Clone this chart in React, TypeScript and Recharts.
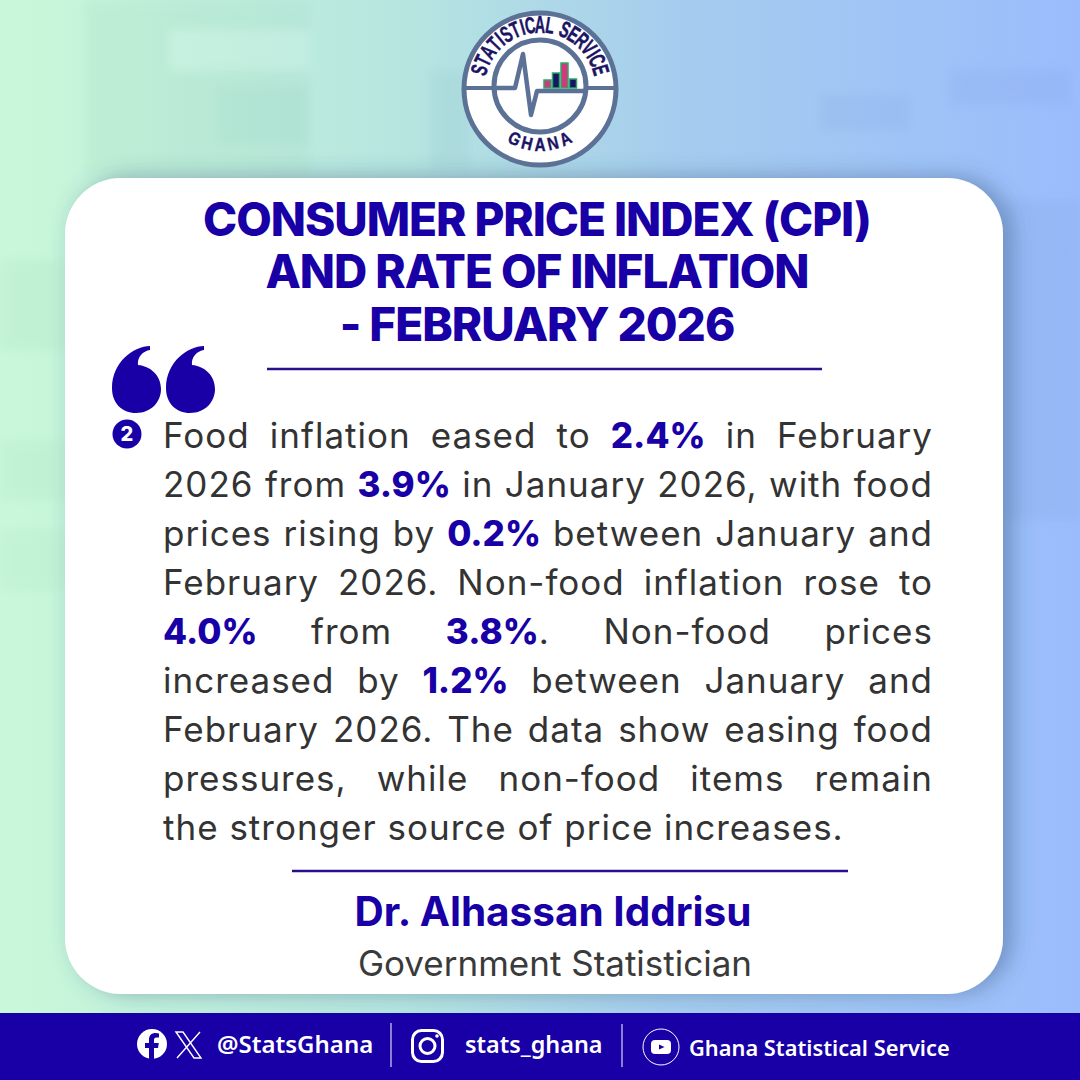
import React from "react";
import { ComposedChart, Bar, Cell, XAxis, YAxis } from "recharts";

const titleLines = ["CONSUMER PRICE INDEX (CPI)", "AND RATE OF INFLATION", "- FEBRUARY 2026"];
const bodyLines = [
  "Food inflation eased to *2.4%* in February",
  "2026 from *3.9%* in January 2026, with food",
  "prices rising by *0.2%* between January and",
  "February 2026. Non-food inflation rose to",
  "*4.0%* from *3.8%*. Non-food prices",
  "increased by *1.2%* between January and",
  "February 2026. The data show easing food",
  "pressures, while non-food items remain",
  "the stronger source of price increases.",
];
const logoTopText = "STATISTICAL SERVICE";
const logoBottomText = "GHANA";
const logoCategories = ["a", "b", "c", "d"];
const logoValues = [8, 15, 25, 9];
const logoFills = ["#d2397c", "#1b1464", "#d2397c", "#1b1464"];
const logoData = logoCategories.map((name, i) => ({ name, value: logoValues[i] }));

const BLUE = "#1800a6";
const SANS = "Inter, 'Noto Sans', sans-serif";
const LOGO = "#5c7196";
const NAVY = "#1b1464";

const Background = () => (
  <>
    <defs>
      <linearGradient id="bg" x1="0" y1="0" x2="1" y2="0">
        <stop offset="0" stopColor="#c9f8d9" />
        <stop offset="0.38" stopColor="#b6e5e0" />
        <stop offset="0.62" stopColor="#a6cdee" />
        <stop offset="1" stopColor="#9bbcfc" />
      </linearGradient>
      <filter id="soft" x="-30%" y="-30%" width="160%" height="160%">
        <feGaussianBlur stdDeviation="5" />
      </filter>
      <filter id="shadow" x="-10%" y="-10%" width="120%" height="120%">
        <feDropShadow dx="9" dy="-1" stdDeviation="11" floodColor="#35567f" floodOpacity="0.45" />
      </filter>
    </defs>
    <rect x={0} y={0} width={1080} height={1080} fill="url(#bg)" />
    <g filter="url(#soft)" opacity={0.16}>
      <rect x={85} y={0} width={225} height={175} fill="#9fd6b8" />
      <rect x={170} y={30} width={140} height={40} fill="#e4fbf0" />
      <rect x={215} y={85} width={95} height={60} fill="#7fc0a8" />
      <rect x={0} y={260} width={65} height={90} fill="#9fd8b4" />
      <rect x={0} y={440} width={65} height={60} fill="#a4dcb8" />
      <rect x={0} y={530} width={65} height={60} fill="#a8e0bc" />
      <rect x={430} y={70} width={40} height={100} fill="#8cc0c8" />
      <rect x={820} y={95} width={90} height={35} fill="#7fa2e0" />
      <rect x={950} y={70} width={120} height={35} fill="#7f9fe4" />
      <rect x={1003} y={200} width={77} height={320} fill="#7aa0dc" />
    </g>
  </>
);

const Card = () => (
  <>
    <rect x={65} y={178} width={938} height={816} rx={56} ry={56} fill="#ffffff" filter="url(#shadow)" />
    {titleLines.map((t, i) => (
      <text key={t} x={537} y={[236, 288, 341][i]} textAnchor="middle" fontFamily={SANS} fontWeight={800} fontSize={46} letterSpacing={-1.05} fill={BLUE}>
        {t}
      </text>
    ))}
    <line x1={267} x2={822} y1={369} y2={369} stroke="#2a0f8a" strokeWidth={2.5} />
    <line x1={292} x2={848} y1={871} y2={871} stroke="#2a0f8a" strokeWidth={2.5} />
    {[0, 54].map((dx) => (
      <path
        key={dx}
        transform={`translate(${dx} 0)`}
        fill={BLUE}
        d="M 150 346 C 134 346 112 362 112 388 C 112 403 122 413 136 413 C 151 413 161 402 161 389 C 161 375 150 366 138 365 C 137 357 143 351 150 350 Z"
      />
    ))}
    <circle cx={127} cy={434} r={14.5} fill={BLUE} />
    <text x={127} y={441} textAnchor="middle" fontFamily={SANS} fontWeight={800} fontSize={20} fill="#fff">2</text>
    <text x={553} y={926} textAnchor="middle" fontFamily={SANS} fontWeight={700} fontSize={40.5} fill={BLUE}>Dr. Alhassan Iddrisu</text>
    <text x={555} y={976} textAnchor="middle" fontFamily={SANS} fontWeight={400} fontSize={35} fill="#3a3a3a">Government Statistician</text>
  </>
);

const Footer = () => (
  <>
    <rect x={0} y={1013} width={1080} height={67} fill={BLUE} />
    <circle cx={152} cy={1044} r={15} fill="#fff" />
    <path d="M 149 1059 V 1048 H 145 V 1043 H 149 V 1039.5 C 149 1035 152 1033 155.5 1033 L 159 1033.4 V 1037.5 H 156.6 C 154.6 1037.5 154 1038.6 154 1040 V 1043 H 158.8 L 158 1048 H 154 V 1059 Z" fill={BLUE} />
    <path d="M 176 1032 L 194 1058 L 201 1058 L 183 1032 Z M 200 1032 L 177 1058" stroke="#fff" strokeWidth={1.4} fill="none" />
    <text x={217} y={1053} fontFamily="'Noto Sans', sans-serif" fontWeight={600} fontSize={24} fill="#fff">@StatsGhana</text>
    <line x1={391} x2={391} y1={1023} y2={1067} stroke="#fff" strokeWidth={1} />
    <rect x={412.5} y={1030.5} width={30} height={31} rx={9} fill="none" stroke="#fff" strokeWidth={3} />
    <circle cx={427.5} cy={1046} r={7.5} fill="none" stroke="#fff" strokeWidth={3} />
    <circle cx={437} cy={1036} r={1.8} fill="#fff" />
    <text x={465} y={1053} fontFamily="'Noto Sans', sans-serif" fontWeight={600} fontSize={23.4} fill="#fff">stats_ghana</text>
    <line x1={622} x2={622} y1={1024} y2={1067} stroke="#fff" strokeWidth={1} />
    <circle cx={661} cy={1047} r={18} fill="none" stroke="#fff" strokeWidth={1} />
    <rect x={651} y={1040} width={20} height={14} rx={4} fill="#fff" />
    <path d="M 659 1044.5 L 664.5 1047 L 659 1049.5 Z" fill={BLUE} />
    <text x={689} y={1056} fontFamily="'Noto Sans', sans-serif" fontWeight={600} fontSize={21.8} fill="#fff">Ghana Statistical Service</text>
  </>
);

const narrowGlyphs = new Set(["I", " "]);

const ArcTop = () => {
  const weights = Array.from(logoTopText).map((c) => (narrowGlyphs.has(c) ? 0.55 : 1));
  const total = weights.reduce((a, b) => a + b, 0);
  const span = 156;
  let run = 0;
  return (
    <>
      {Array.from(logoTopText).map((c, i) => {
        const a = -span / 2 + ((run + weights[i] / 2) / total) * span;
        run += weights[i];
        const rad = (a * Math.PI) / 180;
        const x = 540 + 55.5 * Math.sin(rad);
        const y = 88 - 55.5 * Math.cos(rad);
        return (
          <text
            key={i}
            transform={`translate(${x} ${y}) rotate(${a}) scale(0.62 1)`}
            textAnchor="middle"
            fontFamily="'Liberation Sans', sans-serif"
            fontWeight={700}
            fontSize={23}
            fill={NAVY}
            stroke={NAVY}
            strokeWidth={0.5}
          >
            {c}
          </text>
        );
      })}
    </>
  );
};

const ArcBottom = () => (
  <>
    {Array.from(logoBottomText).map((c, i) => {
      const a = (i - 2) * 13.5;
      const rad = (a * Math.PI) / 180;
      const x = 540 + 62 * Math.sin(rad);
      const y = 89 + 62 * Math.cos(rad);
      return (
        <text
          key={i}
          transform={`translate(${x} ${y}) rotate(${-a}) scale(0.85 1)`}
          textAnchor="middle"
          fontFamily="'Liberation Sans', sans-serif"
          fontWeight={700}
          fontSize={18}
          fill={NAVY}
          stroke={NAVY}
          strokeWidth={0.4}
        >
          {c}
        </text>
      );
    })}
  </>
);

const LogoBase = () => (
  <>
    <circle cx={540} cy={89} r={76} fill="#fff" stroke={LOGO} strokeWidth={5} />
    <circle cx={540} cy={86} r={46} fill="#fff" stroke={LOGO} strokeWidth={5} />
    <line x1={464} x2={494} y1={88} y2={88} stroke={LOGO} strokeWidth={4} />
    <line x1={586} x2={616} y1={88} y2={88} stroke={LOGO} strokeWidth={4} />
    <polyline points="494,88 515,88 523,54 531,115 537,91 586,91" fill="none" stroke={LOGO} strokeWidth={4.5} strokeLinejoin="round" />
    <ArcTop />
    <ArcBottom />
  </>
);

const BodyText = () => (
  <div style={{ position: "absolute", left: 163, top: 0, width: 770, fontFamily: SANS, fontSize: 35, letterSpacing: 1, color: "#333333" }}>
    {bodyLines.map((line, i) => (
      <div
        key={i}
        style={{
          position: "absolute",
          left: 0,
          top: 411 + i * 49,
          width: 770,
          height: 49,
          lineHeight: "49px",
          textAlign: i === bodyLines.length - 1 ? "left" : "justify",
          textAlignLast: i === bodyLines.length - 1 ? "left" : "justify",
        }}
      >
        {line.split("*").map((seg, j) =>
          j % 2 ? (
            <b key={j} style={{ color: BLUE, fontWeight: 800, letterSpacing: 0 }}>{seg}</b>
          ) : (
            <span key={j}>{seg}</span>
          )
        )}
      </div>
    ))}
  </div>
);

export default function App() {
  return (
    <div style={{ position: "absolute", left: 0, top: 0, width: 1080, height: 1080, overflow: "hidden" }}>
      <ComposedChart
        width={1080}
        height={1080}
        data={logoData}
        margin={{ left: 543, right: 503, top: 63, bottom: 992 }}
        barCategoryGap={1}
        style={{ position: "absolute", left: 0, top: 0 }}
      >
        <Background />
        <Card />
        <Footer />
        <LogoBase />
        <XAxis dataKey="name" hide />
        <YAxis hide domain={[0, 25]} />
        <Bar dataKey="value" isAnimationActive={false} stroke="#2ea66a" strokeWidth={1.5}>
          {logoData.map((d, i) => (
            <Cell key={d.name} fill={logoFills[i]} />
          ))}
        </Bar>
      </ComposedChart>
      <BodyText />
    </div>
  );
}
